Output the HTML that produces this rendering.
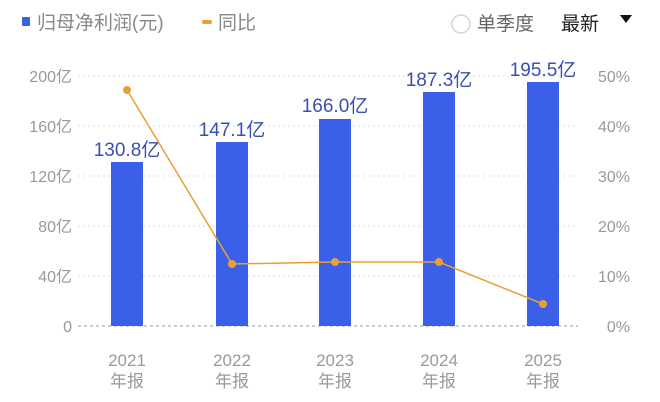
<!DOCTYPE html><html><head><meta charset="utf-8"><style>body{margin:0;background:#fff;width:660px;height:402px;overflow:hidden}svg{display:block}text{font-family:"Liberation Sans","Noto Sans CJK SC",sans-serif}</style></head><body>
<svg width="660" height="402" viewBox="0 0 660 402">
<rect x="22" y="17" width="8" height="9" rx="1" fill="#3a5fe0"/>
<text x="37" y="29" font-size="19" fill="#888">归母净利润(元)</text>
<rect x="202" y="20" width="10" height="4" rx="2" fill="#e8a033"/>
<text x="218" y="29" font-size="19" fill="#888">同比</text>
<circle cx="461" cy="24" r="9" fill="none" stroke="#ccc" stroke-width="1.2"/>
<text x="477" y="30" font-size="19" fill="#666">单季度</text>
<text x="561" y="30" font-size="19" fill="#222">最新</text>
<path d="M620 15 L632 15 L626 23Z" fill="#111"/>
<g stroke="#ddd" stroke-dasharray="2,3" stroke-width="1">
<line x1="78" y1="76" x2="578" y2="76"/><line x1="78" y1="126" x2="578" y2="126"/><line x1="78" y1="176" x2="578" y2="176"/><line x1="78" y1="226" x2="578" y2="226"/><line x1="78" y1="276" x2="578" y2="276"/></g>
<line x1="78" y1="326" x2="578" y2="326" stroke="#999" stroke-dasharray="3,3"/>
<g font-size="16" fill="#999" text-anchor="end">
<text x="72" y="82">200亿</text><text x="72" y="132">160亿</text><text x="72" y="182">120亿</text><text x="72" y="232">80亿</text><text x="72" y="282">40亿</text><text x="72" y="332">0</text></g>
<g font-size="16" fill="#999" text-anchor="end">
<text x="630" y="82">50%</text><text x="630" y="132">40%</text><text x="630" y="182">30%</text><text x="630" y="232">20%</text><text x="630" y="282">10%</text><text x="630" y="332">0%</text></g>
<g fill="#3a5fe8">
<rect x="111" y="162" width="32" height="164"/><rect x="216" y="142" width="32" height="184"/><rect x="319" y="119" width="32" height="207"/><rect x="423" y="92" width="32" height="234"/><rect x="527" y="82" width="32" height="244"/></g>
<g font-size="19" fill="#3a4fb0" text-anchor="middle">
<text x="127" y="156">130.8亿</text><text x="232" y="136">147.1亿</text><text x="335" y="112">166.0亿</text><text x="439" y="86">187.3亿</text><text x="543" y="76">195.5亿</text></g>
<polyline points="127,90 232,264 335,262 439,262 543,304" fill="none" stroke="#e8a033" stroke-width="1.5"/>
<g fill="#e8a033"><circle cx="127" cy="90" r="4"/><circle cx="232" cy="264" r="4"/><circle cx="335" cy="262" r="4"/><circle cx="439" cy="262" r="4"/><circle cx="543" cy="304" r="4"/></g>
<g font-size="17" fill="#999" text-anchor="middle">
<text x="127" y="366">2021</text><text x="127" y="387">年报</text>
<text x="232" y="366">2022</text><text x="232" y="387">年报</text>
<text x="335" y="366">2023</text><text x="335" y="387">年报</text>
<text x="439" y="366">2024</text><text x="439" y="387">年报</text>
<text x="543" y="366">2025</text><text x="543" y="387">年报</text></g>
</svg></body></html>
